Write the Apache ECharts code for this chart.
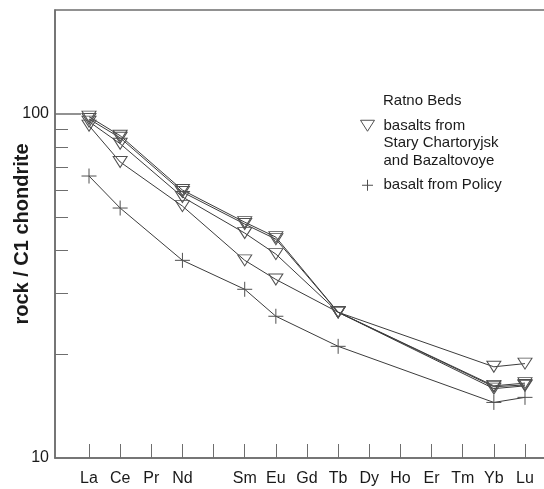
<!DOCTYPE html>
<html>
<head>
<meta charset="utf-8">
<script src="https://cdn.jsdelivr.net/npm/echarts@6/dist/echarts.min.js"></script>
<style>html,body{margin:0;padding:0;background:#fff}#c{width:544px;height:489px}</style>
</head>
<body>
<div id="c"></div>
<script>
const elements = ['La','Ce','Pr','Nd','Pm','Sm','Eu','Gd','Tb','Dy','Ho','Er','Tm','Yb','Lu'];
const tickLabels = ['La','Ce','Pr','Nd','','Sm','Eu','Gd','Tb','Dy','Ho','Er','Tm','Yb','Lu'];
const yTickLabels = [10, 100];
const yMinorTicks = [20, 30, 40, 50, 60, 70, 80, 90];

const basaltA = [98.0, 86.3, null, 60.0, null, 48.4, 43.8, null, 26.5, null, null, null, null, 16.2, 16.5];
const basaltB = [96.5, 85.1, null, 59.2, null, 47.8, 43.2, null, 26.5, null, null, null, null, 16.1, 16.3];
const basaltC = [94.8, 81.8, null, 57.3, null, 45.0, 39.1, null, 26.5, null, null, null, null, 15.9, 16.2];
const basaltD = [92.3, 72.4, null, 53.9, null, 37.5, 33.0, null, 26.5, null, null, null, null, 18.4, 18.8];
const policy  = [65.9, 53.2, null, 37.5, null, 30.9, 25.8, null, 21.1, null, null, null, null, 14.5, 15.0];

const basaltName = 'basalts from\nStary Chartoryjsk\nand Bazaltovoye';
const policyName = 'basalt from Policy';

const TEXT = '#1a1a1a';
const AXIS = '#6e6e6e';
const LINE = '#3c3c3c';
const SYM = '#505050';
const FONT = '"Liberation Sans", Arial, sans-serif';
const plusPath = 'path://M0,7L14,7M7,0L7,14';

function toPairs(vals) {
  return vals.map((v, i) => [i, v]);
}

function triSeries(vals) {
  return {
    type: 'line', name: basaltName, data: toPairs(vals), connectNulls: true,
    symbol: 'triangle', symbolRotate: 180, symbolSize: [14, 11],
    lineStyle: { color: LINE, width: 1 },
    itemStyle: { color: 'transparent', borderColor: SYM, borderWidth: 1 },
    emphasis: { disabled: true }, z: 3
  };
}

const chart = echarts.init(document.getElementById('c'), null, { renderer: 'canvas' });
chart.setOption({
  animation: false,
  backgroundColor: '#fff',
  textStyle: { fontFamily: FONT },
  title: {
    text: 'Ratno Beds', left: 383, top: 93, padding: 0,
    textStyle: { fontSize: 15, fontWeight: 'normal', color: TEXT, fontFamily: FONT }
  },
  legend: {
    orient: 'vertical', left: 360, top: 82, padding: 0, itemGap: 7,
    itemWidth: 14, itemHeight: 11, selectedMode: false,
    formatter: name => (name === basaltName ? '\n\n' + name : name),
    textStyle: { fontSize: 15, color: TEXT, fontFamily: FONT, lineHeight: 17.5, padding: [0, 0, 0, 4] },
    data: [
      { name: basaltName, icon: 'path://M0,0L14,0L7,11Z',
        itemStyle: { color: 'transparent', borderColor: SYM, borderWidth: 1 } },
      { name: policyName, icon: plusPath,
        itemStyle: { color: 'transparent', borderColor: SYM, borderWidth: 1 } }
    ]
  },
  grid: { left: 55, right: -15, top: 10, bottom: 31, show: true, borderColor: AXIS, borderWidth: 1.5, outerBoundsMode: 'none', containLabel: false },
  xAxis: {
    type: 'value', min: -1.092, max: 15.092,
    splitLine: { show: false },
    axisLine: { onZero: false, lineStyle: { color: AXIS, width: 1.5 } },
    axisTick: { inside: true, length: 14, customValues: elements.map((e, i) => i), lineStyle: { color: AXIS, width: 1 } },
    axisLabel: {
      customValues: elements.map((e, i) => i).filter(i => tickLabels[i] !== ''),
      formatter: v => tickLabels[Math.round(v)] || '',
      fontSize: 16, color: TEXT, margin: 13, fontFamily: FONT
    }
  },
  yAxis: [
    {
      type: 'log', logBase: 10, min: 10, max: 200,
      name: 'rock / C1 chondrite', nameLocation: 'middle', nameGap: 23, nameMoveOverlap: false,
      nameTextStyle: { fontSize: 20, fontWeight: 'bold', color: TEXT, fontFamily: FONT },
      splitLine: { show: false },
      axisLine: { onZero: false, lineStyle: { color: AXIS, width: 1.5 } },
      axisTick: { inside: true, length: 13, customValues: yMinorTicks, lineStyle: { color: AXIS, width: 1 } },
      axisLabel: { customValues: yTickLabels, fontSize: 16, color: TEXT, margin: 6, fontFamily: FONT }
    },
    {
      type: 'log', logBase: 10, min: 10, max: 200, position: 'left', offset: 0,
      splitLine: { show: false },
      axisLine: { show: false, onZero: false },
      axisTick: { inside: true, length: 26, customValues: [100], lineStyle: { color: AXIS, width: 1.5 } },
      axisLabel: { show: false }
    }
  ],
  series: [
    triSeries(basaltA),
    triSeries(basaltB),
    triSeries(basaltC),
    triSeries(basaltD),
    {
      type: 'line', name: policyName, data: toPairs(policy), connectNulls: true,
      symbol: plusPath, symbolSize: 15,
      lineStyle: { color: LINE, width: 1 },
      itemStyle: { color: 'transparent', borderColor: SYM, borderWidth: 1 },
      emphasis: { disabled: true }, z: 3
    }
  ]
});
</script>
</body>
</html>
